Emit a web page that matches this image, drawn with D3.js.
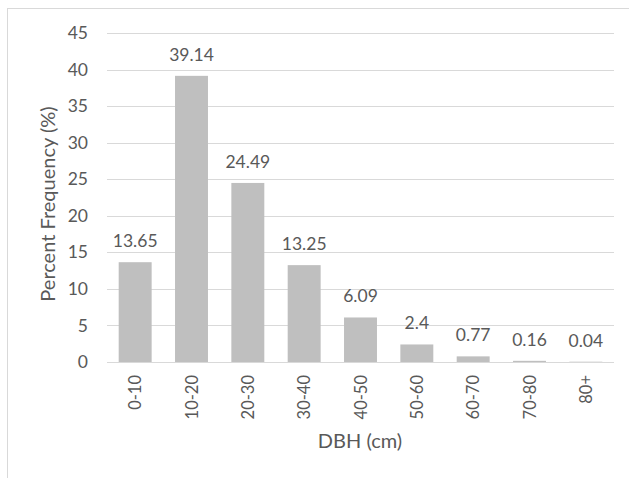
<!DOCTYPE html>
<html>
<head>
<meta charset="utf-8">
<script src="https://cdn.jsdelivr.net/npm/d3@7"></script>
<style>
  html, body { margin: 0; padding: 0; background: #fff; }
  svg { display: block; }
  text { font-family: Lato, "Open Sans", sans-serif; fill: #595959; }
</style>
</head>
<body>
<svg id="chart" width="629" height="478"></svg>
<script>
// DBH class distribution (percent frequency)
const categories = ["0-10", "10-20", "20-30", "30-40", "40-50", "50-60", "60-70", "70-80", "80+"];
const values = [13.65, 39.14, 24.49, 13.25, 6.09, 2.4, 0.77, 0.16, 0.04];
const valueLabels = ["13.65", "39.14", "24.49", "13.25", "6.09", "2.4", "0.77", "0.16", "0.04"];
const yTicks = [0, 5, 10, 15, 20, 25, 30, 35, 40, 45];

const svg = d3.select("#chart");
const W = 629, H = 478;

// chart frame (only top and left edges fall inside the view)
svg.append("rect")
  .attr("x", 7.5).attr("y", 8.5)
  .attr("width", W + 10).attr("height", H + 10)
  .attr("fill", "none").attr("stroke", "#d9d9d9").attr("stroke-width", 1);

const plot = { left: 107, right: 614, top: 33, bottom: 362 };

const x = d3.scaleBand()
  .domain(categories)
  .range([plot.left, plot.right])
  .paddingInner(0.415)
  .paddingOuter(0.2075);

const y = d3.scaleLinear()
  .domain([0, 45])
  .range([plot.bottom, plot.top]);

// horizontal gridlines
svg.append("g")
  .selectAll("line")
  .data(yTicks)
  .join("line")
  .attr("x1", plot.left).attr("x2", plot.right)
  .attr("y1", d => Math.round(y(d)) + 0.5)
  .attr("y2", d => Math.round(y(d)) + 0.5)
  .attr("stroke", "#d9d9d9").attr("stroke-width", 1);

// y axis tick labels
const yAxis = d3.axisLeft(y).tickValues(yTicks).tickSize(0).tickPadding(19);
const gy = svg.append("g")
  .attr("transform", `translate(${plot.left},0)`)
  .call(yAxis);
gy.select(".domain").remove();
gy.selectAll("text")
  .style("font-size", "17.5px")
  .style("font-family", "Lato, sans-serif")
  .attr("fill", "#595959");

// bars
svg.append("g")
  .selectAll("rect")
  .data(values)
  .join("rect")
  .attr("x", (d, i) => x(categories[i]))
  .attr("width", x.bandwidth())
  .attr("y", d => y(d))
  .attr("height", d => y(0) - y(d))
  .attr("fill", "#bfbfbf");

// value labels above bars
svg.append("g")
  .selectAll("text")
  .data(values)
  .join("text")
  .attr("x", (d, i) => x(categories[i]) + x.bandwidth() / 2)
  .attr("y", d => y(d) - 15)
  .attr("text-anchor", "middle")
  .style("font-size", "17.5px")
  .text((d, i) => valueLabels[i]);

// x axis baseline
svg.append("line")
  .attr("x1", plot.left).attr("x2", plot.right)
  .attr("y1", plot.bottom + 0.5).attr("y2", plot.bottom + 0.5)
  .attr("stroke", "#d9d9d9").attr("stroke-width", 1);

// x axis category labels (rotated)
const xAxis = d3.axisBottom(x).tickSize(0).tickPadding(0);
const gx = svg.append("g")
  .attr("transform", `translate(0,${plot.bottom})`)
  .call(xAxis);
gx.select(".domain").remove();
gx.selectAll("text")
  .style("font-size", "16.5px")
  .style("font-family", "Lato, sans-serif")
  .attr("fill", "#595959")
  .attr("text-anchor", "end")
  .attr("dy", null)
  .attr("y", 0)
  .attr("transform", "translate(0,13) rotate(-90)")
  .attr("dominant-baseline", "central");

// axis titles
svg.append("text")
  .attr("x", 360)
  .attr("y", 448)
  .attr("text-anchor", "middle")
  .style("font-size", "20px")
  .text("DBH (cm)");

svg.append("text")
  .attr("transform", `translate(55,204) rotate(-90)`)
  .attr("text-anchor", "middle")
  .style("font-size", "20px")
  .text("Percent Frequency (%)");
</script>
</body>
</html>
